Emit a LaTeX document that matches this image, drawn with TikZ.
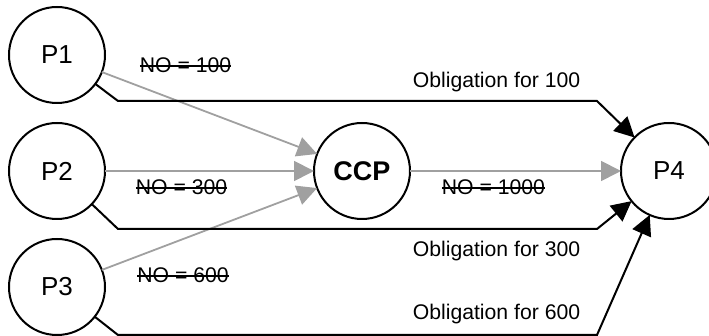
\documentclass[tikz,border=0pt]{standalone}
\usepackage{fontspec}
\setmainfont{Liberation Sans}
\usepackage{tikz}
\usetikzlibrary{shapes, arrows.meta, positioning}
\definecolor{nogray}{RGB}{160,160,160}
\newcommand{\crossedout}[1]{\setbox0\hbox{#1}\rlap{#1}\rule[0.29em]{\wd0}{0.75pt}}

\begin{document}
\begin{tikzpicture}[node distance = 10pt]
  \tikzstyle{party} = [circle, draw, line width=1pt, minimum size=48pt, inner sep=0pt, outer sep=0pt, font=\fontsize{13}{15}\selectfont]
  \tikzstyle{connector} = [draw, nogray, line width=0.9pt, -{Triangle[length=10pt, width=10pt]}]
  \tikzstyle{obligation} = [draw, line width=1pt, -{Triangle[length=10pt, width=10pt]}]
  \tikzstyle{nettext} = [anchor=base, inner sep=0pt, font=\fontsize{10.6}{12}\selectfont]
  \useasboundingbox (0,0) rectangle (354.5pt,168pt);
  \node [party] (p1) at (28.5pt,140.5pt) {P1};
  \node [party, below = of p1] (p2) {P2};
  \node [party, below = of p2] (p3) {P3};
  \node [party, right = 104.5pt of p2, font=\fontsize{13.5}{15}\selectfont\bfseries] (ccp) {CCP};
  \node [party, right = 105.5pt of ccp] (p4) {P4};
  \coordinate [below right = 23pt and 30.5pt of p1.center] (p1bend);
  \coordinate [below right = 29pt and 30.5pt of p2.center] (p2bend);
  \coordinate [below right = 24pt and 30.5pt of p3.center] (p3bend);
  \coordinate [left = 36pt of p4.center] (p4in);
  \path [connector] (p1) -- (ccp);
  \path [connector] (p2) -- (ccp);
  \path [connector] (p3) -- (ccp);
  \path [connector] (ccp) -- (p4);
  \path [obligation] (p1) -- (p1bend) -- (p1bend -| p4in) -- (p4);
  \path [obligation] (p2) -- (p2bend) -- (p2bend -| p4in) -- (p4);
  \path [obligation] (p3) -- (p3bend) -- (p3bend -| p4in) -- (p4);
  \node [nettext] (no100) at (92.75pt,131.6pt) {\crossedout{NO = 100}};
  \node [nettext] (no300) at (90.75pt,70.5pt) {\crossedout{NO = 300}};
  \node [nettext] (no600) at (91.5pt,26.5pt) {\crossedout{NO = 600}};
  \node [nettext] (no1000) at (246.75pt,70.5pt) {\crossedout{NO = 1000}};
  \node [nettext] (ob100) at (248.25pt,124pt) {Obligation for 100};
  \node [nettext] (ob300) at (248.25pt,39.5pt) {Obligation for 300};
  \node [nettext] (ob600) at (248.25pt,8pt) {Obligation for 600};
\end{tikzpicture}
\end{document}
